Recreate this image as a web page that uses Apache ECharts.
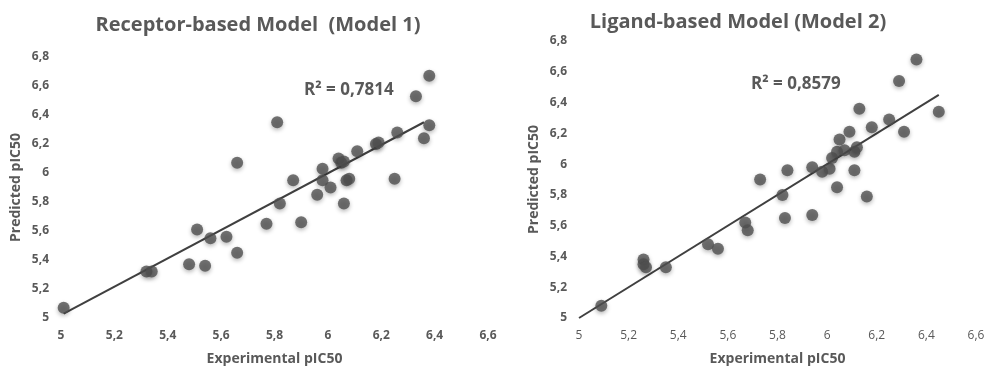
<!DOCTYPE html>
<html>
<head>
<meta charset="utf-8">
<script src="https://cdn.jsdelivr.net/npm/echarts@6/dist/echarts.min.js"></script>
<style>
  html, body { margin: 0; padding: 0; background: #fff; }
  #chart { width: 1000px; height: 375px; }
</style>
</head>
<body>
<div id="chart"></div>
<script>
// Model 1 (receptor-based): experimental vs predicted
var model1Exp = [5.01, 5.32, 5.34, 5.48, 5.54, 5.51, 5.56, 5.62, 5.66, 5.66, 5.77, 5.81, 5.82, 5.87, 5.90, 5.96, 5.98, 5.98,
    6.01, 6.04, 6.05, 6.06, 6.06, 6.07, 6.08, 6.11, 6.18, 6.19, 6.25, 6.26, 6.33, 6.36, 6.38, 6.38];
var model1Pred = [5.07, 5.32, 5.32, 5.37, 5.36, 5.61, 5.55, 5.56, 5.45, 6.07, 5.65, 6.35, 5.79, 5.95, 5.66, 5.85, 6.03, 5.95,
    5.90, 6.10, 6.07, 6.08, 5.79, 5.95, 5.96, 6.15, 6.20, 6.21, 5.96, 6.28, 6.53, 6.24, 6.67, 6.33];
var model1TrendX = [5.01, 6.36];
var model1TrendY = [5.03, 6.35];

// Model 2 (ligand-based)
var model2Exp = [5.09, 5.26, 5.26, 5.27, 5.35, 5.52, 5.56, 5.67, 5.68, 5.73, 5.82, 5.83, 5.84, 5.94, 5.94, 5.98, 6.01,
    6.02, 6.04, 6.04, 6.05, 6.07, 6.09, 6.11, 6.11, 6.12, 6.13, 6.18, 6.16, 6.25, 6.29, 6.31, 6.36, 6.45];
var model2Pred = [5.08, 5.38, 5.35, 5.33, 5.33, 5.48, 5.45, 5.62, 5.57, 5.90, 5.80, 5.65, 5.96, 5.98, 5.67, 5.95, 5.97,
    6.04, 5.85, 6.08, 6.16, 6.09, 6.21, 6.08, 5.96, 6.11, 6.36, 6.24, 5.79, 6.29, 6.54, 6.21, 6.68, 6.34];
var model2TrendX = [5.0, 6.45];
var model2TrendY = [5.0, 6.45];

var titles = ['Receptor-based Model  (Model 1)', 'Ligand-based Model (Model 2)'];
var r2Labels = ['R² = 0,7814', 'R² = 0,8579'];

var textColor = '#595959';
var dotColor = '#505050';

function pairs(xs, ys) {
    var out = [];
    for (var i = 0; i < xs.length; i++) {
        out.push([xs[i], ys[i]]);
    }
    return out;
}

// 5.2 -> "5,2"
function fmt(v) {
    return String(+v.toFixed(1)).replace('.', ',');
}

function makeXAxis(idx, boldLabels) {
    return {
        type: 'value', gridIndex: idx, min: 5, max: 6.6, interval: 0.2,
        axisLine: {show: false}, axisTick: {show: false}, splitLine: {show: false},
        axisLabel: {formatter: fmt, color: textColor, fontSize: 12, fontFamily: 'Open Sans',
            fontWeight: boldLabels ? 'bold' : 'normal', margin: 12},
        name: 'Experimental pIC50', nameLocation: 'middle', nameGap: 34,
        nameTextStyle: {color: textColor, fontSize: 14, fontWeight: 'bold', fontFamily: 'Open Sans'}
    };
}

function makeYAxis(idx) {
    return {
        type: 'value', gridIndex: idx, min: 5, max: 6.8, interval: 0.2,
        axisLine: {show: false}, axisTick: {show: false}, splitLine: {show: false},
        axisLabel: {formatter: fmt, color: textColor, fontSize: 12, fontFamily: 'Open Sans',
            fontWeight: 'bold', margin: 12},
        name: 'Predicted pIC50', nameLocation: 'middle', nameGap: 38,
        nameTextStyle: {color: textColor, fontSize: 14, fontWeight: 'bold', fontFamily: 'Open Sans'}
    };
}

function scatter(idx, data) {
    return {
        type: 'scatter', xAxisIndex: idx, yAxisIndex: idx, data: data,
        symbolSize: 12, z: 3,
        itemStyle: {color: dotColor, shadowColor: 'rgba(0,0,0,0.35)', shadowBlur: 4, shadowOffsetY: 2}
    };
}

function trend(idx, data) {
    return {
        type: 'line', xAxisIndex: idx, yAxisIndex: idx, data: data,
        symbol: 'none', z: 2,
        lineStyle: {color: '#404040', width: 2}
    };
}

var myChart = echarts.init(document.getElementById('chart'));

var option = {
    animation: false,
    backgroundColor: '#fff',
    title: [
        {text: titles[0], left: 253, top: 10, textAlign: 'center',
            textStyle: {color: textColor, fontSize: 20, fontWeight: 'bold', fontFamily: 'Open Sans'}},
        {text: titles[1], left: 733, top: 7, textAlign: 'center',
            textStyle: {color: textColor, fontSize: 20, fontWeight: 'bold', fontFamily: 'Open Sans'}},
        {text: r2Labels[0], left: 299, top: 77,
            textStyle: {color: textColor, fontSize: 17, fontWeight: 'bold', fontFamily: 'Open Sans'}},
        {text: r2Labels[1], left: 746, top: 71,
            textStyle: {color: textColor, fontSize: 17, fontWeight: 'bold', fontFamily: 'Open Sans'}}
    ],
    grid: [
        {left: 61, top: 57, width: 427, height: 261},
        {left: 579, top: 41, width: 397, height: 277}
    ],
    xAxis: [makeXAxis(0, true), makeXAxis(1, false)],
    yAxis: [makeYAxis(0), makeYAxis(1)],
    series: [
        trend(0, pairs(model1TrendX, model1TrendY)),
        scatter(0, pairs(model1Exp, model1Pred)),
        trend(1, pairs(model2TrendX, model2TrendY)),
        scatter(1, pairs(model2Exp, model2Pred))
    ]
};

myChart.setOption(option);
</script>
</body>
</html>
